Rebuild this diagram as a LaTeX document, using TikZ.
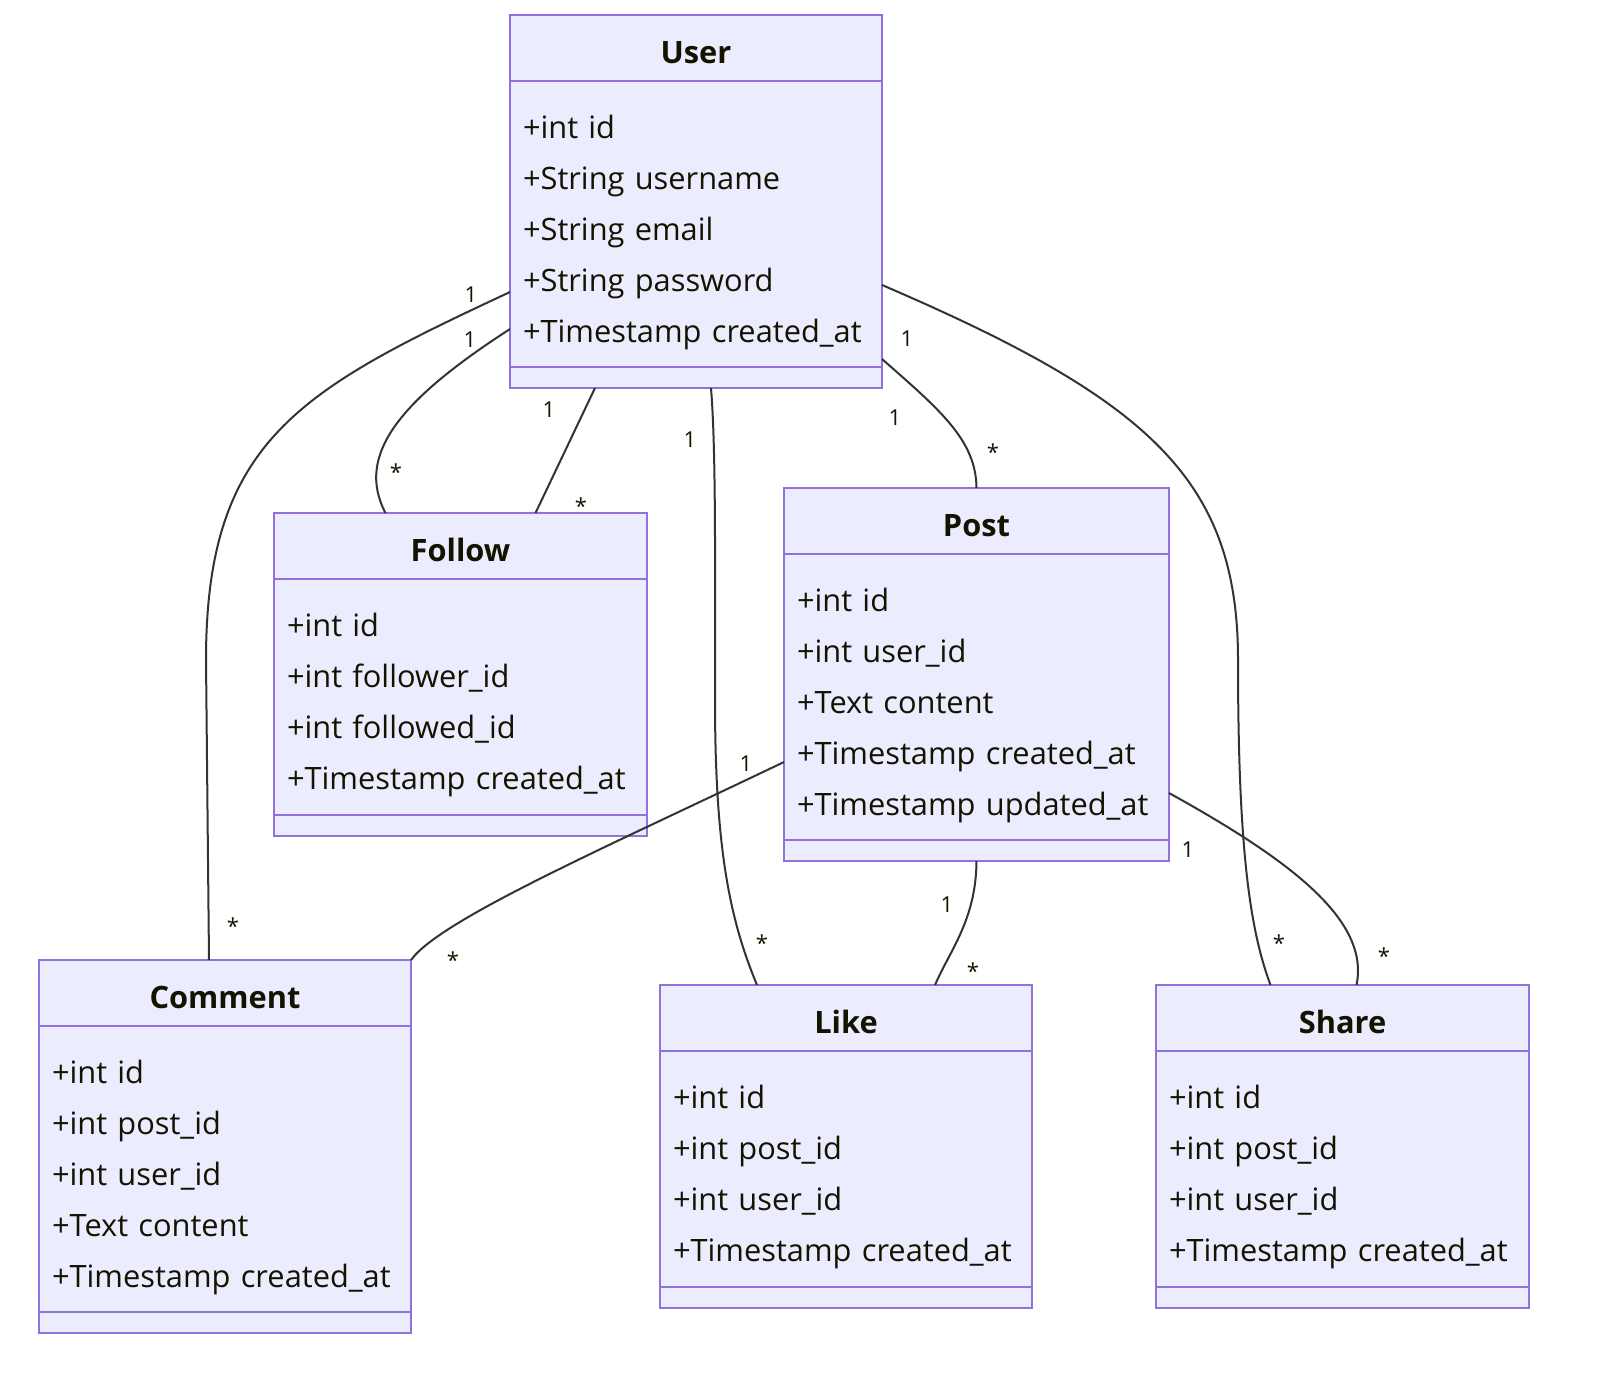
\documentclass[tikz,border=0pt]{standalone}
\usepackage{fontspec}
\setmainfont{Open Sans}
\usetikzlibrary{positioning,calc}
\definecolor{classFill}{HTML}{ECECFF}
\definecolor{classLine}{HTML}{9370DB}
\definecolor{linkLine}{HTML}{333333}
\definecolor{textInk}{HTML}{131300}
\tikzstyle{ClassTitle}=[rectangle, draw=classLine, fill=classFill, line width=1pt, outer sep=0pt, minimum height=33pt, text height=15pt, text depth=0pt, font=\fontsize{15.4}{18}\selectfont\bfseries, text=textInk]
\tikzstyle{ClassAttrs}=[rectangle, draw=classLine, fill=classFill, line width=1pt, outer sep=0pt, inner xsep=6.5pt, align=left, font=\fontsize{15.4}{25.5}\selectfont, execute at begin node={\hyphenpenalty=10000\relax\rule{0pt}{20pt}}, text=textInk]
\tikzstyle{ClassBottom}=[rectangle, draw=classLine, fill=classFill, line width=1pt, outer sep=0pt, inner sep=0pt, minimum height=10.5pt]
\tikzstyle{Link}=[draw=linkLine, line width=1pt]
\tikzstyle{Mult}=[font=\fontsize{11}{13}\selectfont, text=textInk, inner sep=0pt]

\begin{document}
\begin{tikzpicture}[x=0.5pt, y=-0.5pt]
			\useasboundingbox (0,0) rectangle (1600,1378);
			%Classes
			\node[ClassTitle, minimum width=186pt, anchor=north west]	(user)		at (510,15)		{User};
			\node[ClassAttrs, text width=173pt, minimum height=143pt]	(userAttrs)	[below=0pt of user]	{+int id\\+String username\\+String email\\+String password\\+Timestamp created\_at};
			\node[ClassBottom, minimum width=186pt]					(userBottom)	[below=0pt of userAttrs]	{};

			\node[ClassTitle, minimum width=186.5pt, anchor=north west]	(follow)		at (274,513)		{Follow};
			\node[ClassAttrs, text width=173.5pt, minimum height=118pt]	(followAttrs)	[below=0pt of follow]	{+int id\\+int follower\_id\\+int followed\_id\\+Timestamp created\_at};
			\node[ClassBottom, minimum width=186.5pt]				(followBottom)	[below=0pt of followAttrs]	{};

			\node[ClassTitle, minimum width=192.5pt, anchor=north west]	(post)		at (784,488)		{Post};
			\node[ClassAttrs, text width=179.5pt, minimum height=143pt]	(postAttrs)	[below=0pt of post]	{+int id\\+int user\_id\\+Text content\\+Timestamp created\_at\\+Timestamp updated\_at};
			\node[ClassBottom, minimum width=192.5pt]				(postBottom)	[below=0pt of postAttrs]	{};

			\node[ClassTitle, minimum width=186pt, anchor=north west]	(comment)		at (39,960)		{Comment};
			\node[ClassAttrs, text width=173pt, minimum height=143pt]	(commentAttrs)	[below=0pt of comment]	{+int id\\+int post\_id\\+int user\_id\\+Text content\\+Timestamp created\_at};
			\node[ClassBottom, minimum width=186pt]					(commentBottom)	[below=0pt of commentAttrs]	{};

			\node[ClassTitle, minimum width=186pt, anchor=north west]	(like)		at (660,985)		{Like};
			\node[ClassAttrs, text width=173pt, minimum height=118pt]	(likeAttrs)	[below=0pt of like]	{+int id\\+int post\_id\\+int user\_id\\+Timestamp created\_at};
			\node[ClassBottom, minimum width=186pt]					(likeBottom)	[below=0pt of likeAttrs]	{};

			\node[ClassTitle, minimum width=186.5pt, anchor=north west]	(share)		at (1156,985)		{Share};
			\node[ClassAttrs, text width=173.5pt, minimum height=118pt]	(shareAttrs)	[below=0pt of share]	{+int id\\+int post\_id\\+int user\_id\\+Timestamp created\_at};
			\node[ClassBottom, minimum width=186.5pt]				(shareBottom)	[below=0pt of shareAttrs]	{};

			%Links
			\draw[Link] ($(userAttrs.west)+(0,68)$) .. controls (300,390) and (206,440) .. (206,660) -- ($(comment.north)+(-16,0)$);
			\draw[Link] ($(userAttrs.west)+(0,105)$) .. controls (400,400) and (355,455) .. ($(follow.north)+(-75,0)$);
			\draw[Link] ($(userBottom.south)+(-101,0)$) -- ($(follow.north)+(75,0)$);
			\draw[Link] ($(userBottom.south)+(15,0)$) .. controls (716,450) and (715,560) .. (715,700) .. controls (715,850) and (730,920) .. ($(like.north)+(-89,0)$);
			\draw[Link] ($(userAttrs.east)+(0,135)$) .. controls (940,410) and (976,440) .. (post.north);
			\draw[Link] ($(userAttrs.east)+(0,61)$) .. controls (1150,400) and (1238,480) .. (1238,660) .. controls (1238,850) and (1250,930) .. ($(share.north)+(-72,0)$);
			\draw[Link] ($(postAttrs.west)+(0,65)$) .. controls (600,850) and (440,920) .. (comment.north east);
			\draw[Link] (postBottom.south) .. controls (976,920) and (950,950) .. ($(like.north)+(89,0)$);
			\draw[Link] ($(postAttrs.east)+(0,96)$) .. controls (1290,860) and (1370,920) .. ($(share.north)+(14,0)$);

			%Multiplicities
			\node[Mult] (ucOne)	at (471,295)	{1};
			\node[Mult] (ucMany)	at (233,926)	{*};
			\node[Mult] (ufaOne)	at (470,340)	{1};
			\node[Mult] (ufaMany)	at (396,472)	{*};
			\node[Mult] (ufbOne)	at (549,410)	{1};
			\node[Mult] (ufbMany)	at (581,506)	{*};
			\node[Mult] (ulOne)	at (690,440)	{1};
			\node[Mult] (ulMany)	at (762,943)	{*};
			\node[Mult] (upOne)	at (895,418)	{1};
			\node[Mult] (upMany)	at (993,452)	{*};
			\node[Mult] (usOne)	at (907,339)	{1};
			\node[Mult] (usMany)	at (1279,943)	{*};
			\node[Mult] (pcOne)	at (746,764)	{1};
			\node[Mult] (pcMany)	at (453,960)	{*};
			\node[Mult] (plOne)	at (947,905)	{1};
			\node[Mult] (plMany)	at (973,971)	{*};
			\node[Mult] (psOne)	at (1188,850)	{1};
			\node[Mult] (psMany)	at (1384,956)	{*};

		\end{tikzpicture}
\end{document}
